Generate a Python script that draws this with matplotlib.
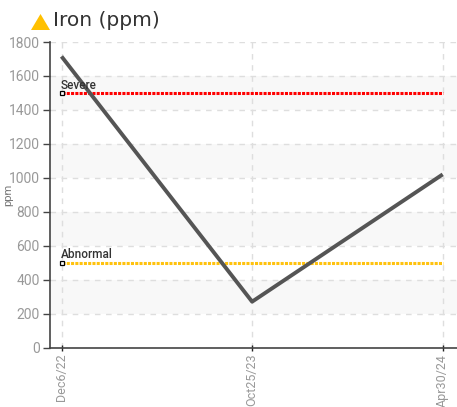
import matplotlib
matplotlib.use("Agg")
import matplotlib.pyplot as plt

dates = ["Dec6/22", "Oct25/23", "Apr30/24"]
iron = [1715, 270, 1020]
severe = [1500, 1500, 1500]
abnormal = [500, 500, 500]
yticks = [0, 200, 400, 600, 800, 1000, 1200, 1400, 1600, 1800]
bands = [(200, 400), (600, 800), (1000, 1200), (1400, 1600)]

W, H = 457, 407
fig = plt.figure(figsize=(W / 100, H / 100), dpi=100)
ax = fig.add_axes([49.5 / W, 1 - 347.5 / H, (W - 49.5) / W, (347.5 - 42) / H])

x = list(range(len(dates)))
for lo, hi in bands:
    ax.axhspan(lo, hi, color="#f8f8f8", lw=0, zorder=0)

ax.grid(True, color="#dedede", ls=(0, (4, 4)), lw=1)
ax.set_axisbelow(True)

ax.plot(x, severe, color="#ff0000", lw=2.2, ls=(0, (1, 0.4)), zorder=2)
ax.plot(x, abnormal, color="#ffc20e", lw=2.2, ls=(0, (1, 0.4)), zorder=2)
ax.plot(x, iron, color="#555555", lw=2.8, zorder=3, solid_capstyle="butt")

ax.plot(x[0], severe[0], "s", ms=3.5, mfc="white", mec="black", mew=0.9, zorder=4)
ax.plot(x[0], abnormal[0], "s", ms=3.5, mfc="white", mec="black", mew=0.9, zorder=4)
ax.annotate("Severe", (x[0], severe[0]), xytext=(-0.5, 3), textcoords="offset points",
            fontsize=8.5, family="Roboto", weight="medium", color="#333333", zorder=5)
ax.annotate("Abnormal", (x[0], abnormal[0]), xytext=(-0.5, 3), textcoords="offset points",
            fontsize=8.5, family="Roboto", weight="medium", color="#333333", zorder=5)

ax.set_xlim(-0.063, 2.075)
ax.set_ylim(0, 1800)
ax.set_xticks(x)
ax.set_xticklabels(dates, rotation=90, family="Roboto", fontsize=9, color="#999999")
ax.set_yticks(yticks)
ax.set_yticklabels(yticks, family="Roboto", fontsize=10, color="#999999")
ax.tick_params(axis="y", length=5, width=1, color="#444444", pad=2)
ax.tick_params(axis="x", length=5, width=1, color="#222222", direction="inout", pad=2)
ax.spines["top"].set_visible(False)
ax.spines["right"].set_visible(False)
ax.spines["left"].set_color("#444444")
ax.spines["bottom"].set_color("#444444")
ax.spines["left"].set_linewidth(1.2)
ax.spines["bottom"].set_linewidth(1.2)
ax.set_ylabel("ppm", family="Roboto", fontsize=8, color="#777777")
ax.yaxis.set_label_coords(-36 / (W - 49.5), 0.5)

# warning triangle next to the title
fig.add_artist(plt.Polygon([[31 / W, 1 - 30 / H], [50 / W, 1 - 30 / H], [40.5 / W, 1 - 14 / H]],
                           closed=True, color="#ffc000", lw=0, transform=fig.transFigure))
fig.text(53 / W, 1 - 21 / H, "Iron (ppm)", family="DejaVu Sans", fontsize=14.5, color="#333333", va="center")

fig.savefig("out.png", dpi=100)
